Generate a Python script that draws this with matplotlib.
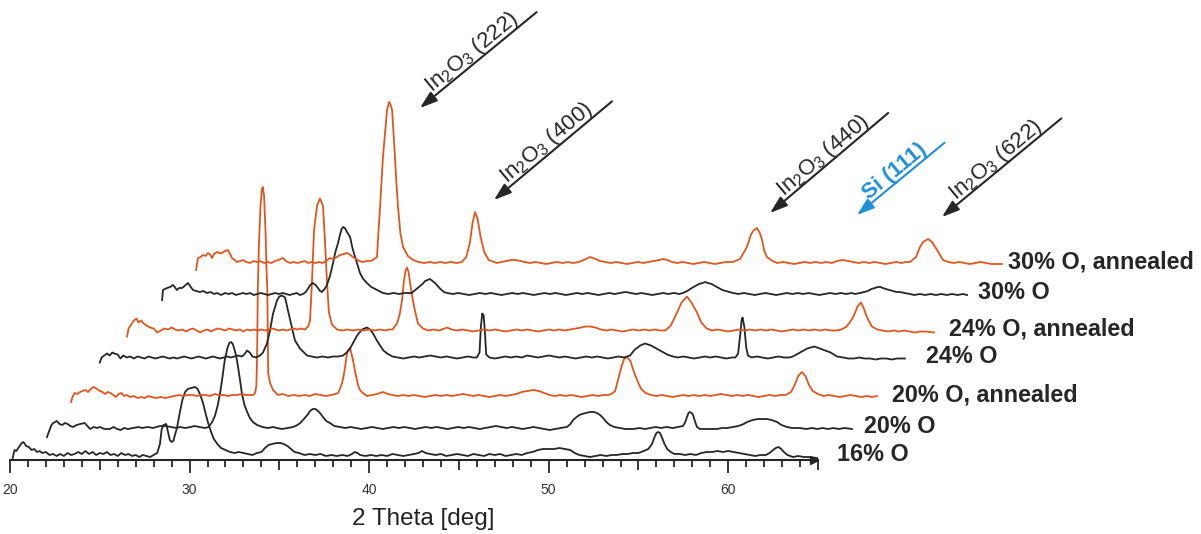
import numpy as np
import matplotlib.pyplot as plt
from matplotlib.ticker import FixedLocator, FuncFormatter

plt.rcParams['font.family'] = ['Liberation Sans', 'DejaVu Sans']
plt.rcParams['mathtext.fontset'] = 'custom'
plt.rcParams['mathtext.rm'] = 'Liberation Sans'
plt.rcParams['mathtext.bf'] = 'Liberation Sans:bold'

# XRD scans, 2 theta [deg] and counts above background (a.u.)
theta_16 = [20.15, 20.25, 20.35, 20.5, 20.65, 20.75, 20.9, 21.05, 21.2, 21.35, 21.5, 21.65, 21.8, 22.0, 22.2, 22.4,
            22.6, 22.8, 23.0, 23.2, 23.4, 23.6, 23.8, 24.0, 24.2, 24.4, 24.6, 24.8, 25.0, 25.2, 25.4, 25.6, 25.8,
            26.0, 26.2, 26.4, 26.6, 26.8, 27.0, 27.2, 27.4, 27.6, 27.8, 28.0, 28.2, 28.35, 28.45, 28.55, 28.7, 28.8,
            28.9, 29.0, 29.1, 29.2, 29.3, 29.45, 29.6, 29.75, 29.9, 30.1, 30.3, 30.45, 30.6, 30.75, 30.9, 31.05,
            31.2, 31.35, 31.55, 31.75, 32.0, 32.25, 32.5, 32.75, 33.0, 33.25, 33.5, 33.75, 34.0, 34.2, 34.4, 34.6,
            34.85, 35.05, 35.25, 35.45, 35.65, 35.85, 36.1, 36.4, 36.7, 37.0, 37.3, 37.6, 37.9, 38.2, 38.5, 38.8,
            39.05, 39.2, 39.35, 39.5, 39.8, 40.1, 40.4, 40.7, 41.0, 41.3, 41.6, 41.9, 42.2, 42.5, 42.75, 42.95,
            43.15, 43.4, 43.7, 44.0, 44.3, 44.6, 44.9, 45.2, 45.5, 45.8, 46.1, 46.4, 46.7, 47.0, 47.3, 47.6, 47.9,
            48.2, 48.5, 48.8, 49.1, 49.4, 49.7, 50.0, 50.3, 50.6, 50.9, 51.2, 51.45, 51.7, 52.0, 52.3, 52.6, 52.9,
            53.2, 53.5, 53.8, 54.1, 54.4, 54.7, 55.0, 55.3, 55.55, 55.75, 55.9, 56.0, 56.1, 56.2, 56.3, 56.45,
            56.6, 56.8, 57.0, 57.3, 57.6, 57.9, 58.2, 58.5, 58.8, 59.1, 59.4, 59.7, 60.0, 60.3, 60.6, 60.9, 61.2,
            61.5, 61.8, 62.1, 62.3, 62.5, 62.65, 62.8, 62.95, 63.1, 63.3, 63.6, 63.9, 64.2, 64.5, 64.95]
counts_16 = [-2, 6, 5, 9, 13, 14, 10, 9, 6, 7, 4, 5, 3, 4, 1, 2,
             0, 2, 0, 3, 1, 2, 4, 2, 5, 2, 4, 1, 3, 2, 4, 1, 2,
             0, 3, 1, 2, 0, 1, -1, 1, 0, -1, 1, 3, 12, 27, 31, 32, 24,
             16, 14, 15, 22, 28, 43, 56, 64, 67, 68, 69, 67, 61, 53, 42, 32,
             24, 17, 12, 8, 6, 4, 3, 4, 3, 2, 1, 3, 4, 8, 11, 12,
             13, 13, 12, 10, 7, 4, 3, 1, 2, 1, 2, 0, 1, 0, 1, 0,
             2, 4, 3, 1, 0, 1, 0, 1, 0, 2, 1, 0, 1, 2, 3, 5,
             3, 2, 1, 2, 0, 1, 2, 1, 0, 2, 1, 0, 2, 1, 2, 0, 1,
             2, 1, 3, 4, 6, 7, 7, 7, 8, 7, 6, 3, 1, 0, -1, 0, 1,
             0, 1, 1, 2, 2, 3, 3, 5, 7, 12, 19, 23, 24, 23, 19, 12,
             7, 4, 2, 2, 1, 2, 1, 3, 4, 4, 5, 4, 5, 4, 3, 2, 1,
             0, 1, 1, 3, 6, 8, 9, 7, 4, 1, -1, 0, -1, -1, -2]

theta_20 = [20.2, 20.3, 20.45, 20.55, 20.75, 20.9, 21.05, 21.2, 21.35, 21.5, 21.65, 21.85, 22.05, 22.3, 22.45,
            22.6, 22.8, 23.0, 23.15, 23.4, 23.7, 23.9, 24.1, 24.3, 24.5, 24.7, 25.0, 25.3, 25.5, 25.8, 26.1, 26.5,
            26.8, 27.1, 27.4, 27.6, 27.9, 28.2, 28.4, 28.7, 29.0, 29.2, 29.4, 29.55, 29.7, 29.85, 29.95, 30.1,
            30.25, 30.35, 30.45, 30.55, 30.65, 30.75, 30.85, 30.95, 31.05, 31.2, 31.35, 31.5, 31.67, 31.9, 32.2,
            32.5, 32.8, 33.0, 33.3, 33.6, 33.9, 34.15, 34.3, 34.46, 34.7, 34.85, 35.0, 35.15, 35.29, 35.45, 35.57,
            35.75, 35.96, 36.2, 36.52, 36.8, 37.1, 37.4, 37.7, 38.0, 38.3, 38.6, 38.9, 39.2, 39.5, 39.8, 40.1,
            40.4, 40.7, 41.0, 41.3, 41.6, 41.9, 42.2, 42.5, 42.8, 43.1, 43.4, 43.7, 44.0, 44.3, 44.6, 44.9, 45.2,
            45.5, 45.8, 46.1, 46.4, 46.7, 47.0, 47.3, 47.6, 47.9, 48.2, 48.5, 48.8, 49.16, 49.35, 49.5, 49.7,
            49.85, 50.0, 50.2, 50.44, 50.65, 50.83, 51.0, 51.17, 51.35, 51.55, 51.8, 52.11, 52.4, 52.84, 53.2,
            53.5, 53.8, 54.1, 54.4, 54.7, 55.06, 55.35, 55.62, 55.75, 55.84, 55.93, 56.01, 56.1, 56.18, 56.3,
            56.4, 56.57, 56.9, 57.2, 57.51, 57.8, 58.1, 58.41, 58.7, 59.0, 59.19, 59.5, 59.8, 60.05, 60.3, 60.55,
            60.86, 61.1, 61.41, 61.7, 62.13, 62.5, 62.8, 63.1, 63.4, 63.7, 64.0, 64.3, 64.6, 65.03]
counts_20 = [-9, -4, 3, 5, 7, 4, 3, 5, 4, 2, 1, 3, 4, 5, 2,
             -1, 1, 0, 1, -1, -1, 1, -1, -2, 0, -1, 0, 1, 0, 1, 0, 2,
             2, 1, 0, 1, 0, 1, 2, 1, 0, 1, 6, 12, 22, 36, 48, 68,
             80, 85, 86, 84, 78, 71, 60, 48, 35, 23, 16, 10, 6, 3, 1,
             0, 1, 0, -1, 0, 1, 3, 5, 8, 13, 17, 19, 19, 17, 14, 11,
             7, 5, 2, 1, 0, 1, 0, -1, 0, 1, 0, -1, 0, 1, 0, 1,
             0, -1, 0, 1, 0, 1, 0, -1, 0, 1, 0, 1, 0, -1, 0, 1, 2,
             1, 0, 1, 0, -1, 0, 1, 0, -1, -2, -1, 0, 1, 4, 8, 11,
             13, 14, 15, 16, 16, 15, 13, 10, 6, 3, 1, 0, -1, -1, 0,
             -1, 0, 1, 0, 1, 0, 1, 2, 6, 11, 15, 16, 15, 13, 6,
             1, -1, -1, -1, -1, 0, 0, 1, 2, 4, 6, 8, 9, 9, 9, 8,
             6, 3, 1, 0, 0, -1, 0, -1, 0, -1, 0, -1, 0, -1]

theta_20a = [20.2, 20.28, 20.4, 20.55, 20.7, 20.85, 21.0, 21.15, 21.3, 21.45, 21.55, 21.65, 21.8, 21.95, 22.1,
             22.25, 22.4, 22.55, 22.7, 22.85, 23.0, 23.15, 23.3, 23.5, 23.7, 23.9, 24.1, 24.3, 24.5, 24.7, 24.95,
             25.2, 25.45, 25.7, 25.95, 26.2, 26.45, 26.7, 26.95, 27.2, 27.45, 27.7, 27.95, 28.2, 28.45, 28.7,
             28.95, 29.2, 29.45, 29.7, 29.95, 30.2, 30.35, 30.45, 30.52, 30.56, 30.6, 30.66, 30.75, 30.83, 30.88,
             30.95, 31.03, 31.08, 31.13, 31.16, 31.18, 31.28, 31.45, 31.72, 32.0, 32.3, 32.6, 32.9, 33.2, 33.5,
             33.8, 34.1, 34.4, 34.7, 34.9, 35.07, 35.2, 35.29, 35.38, 35.46, 35.52, 35.57, 35.65, 35.74, 35.82,
             35.9, 36.0, 36.12, 36.2, 36.29, 36.45, 36.68, 36.95, 37.25, 37.57, 37.85, 38.1, 38.4, 38.7, 39.0,
             39.3, 39.6, 39.9, 40.2, 40.5, 40.8, 41.1, 41.4, 41.7, 42.03, 42.3, 42.6, 42.9, 43.2, 43.5, 43.8,
             44.1, 44.4, 44.7, 45.0, 45.3, 45.6, 45.93, 46.25, 46.55, 46.85, 47.15, 47.45, 47.75, 48.05, 48.35,
             48.65, 48.95, 49.25, 49.55, 49.85, 50.1, 50.3, 50.5, 50.66, 50.85, 51.0, 51.16, 51.35, 51.55, 51.72,
             51.95, 52.2, 52.5, 52.8, 53.1, 53.4, 53.7, 54.0, 54.3, 54.6, 54.9, 55.2, 55.5, 55.8, 56.1, 56.4,
             56.7, 57.0, 57.3, 57.6, 57.9, 58.2, 58.5, 58.8, 59.1, 59.4, 59.7, 60.0, 60.3, 60.5, 60.7, 60.9,
             61.1, 61.3, 61.5, 61.8, 62.1, 62.4, 62.7, 63.0, 63.3, 63.6, 63.9, 64.2, 64.5, 64.8, 65.08]
counts_20a = [-6, -1, 3, 2, 4, 5, 6, 4, 7, 9, 8, 7, 5, 4, 2,
              4, 3, 1, -1, 2, 3, 0, 1, -1, 0, -2, -1, -2, 0, -1, -2,
              -1, -2, -1, 0, 1, 0, 1, 1, 0, 1, 1, 0, 2, 1, 1,
              0, 1, 1, 2, 1, 1, 1, 3, 10, 40, 106, 150, 190, 207, 209,
              200, 165, 130, 106, 60, 23, 13, 6, 1, 2, 0, 1, 0, 1, 0,
              2, 1, 0, 1, 2, 3, 8, 13, 20, 29, 37, 43, 46, 48, 42,
              36, 26, 16, 10, 6, 3, 0, 1, 2, 4, 2, 1, 0, 1, 0,
              1, 0, -1, 0, 1, 0, 1, 0, 1, 2, 1, 0, 1, 0, -1, 0,
              1, 0, 1, 2, 4, 5, 6, 5, 3, 1, 0, 1, 0, 1, 0,
              -1, 0, 1, 0, 1, 1, 2, 5, 16, 29, 37, 39, 35, 24, 16,
              7, 3, 1, 0, 1, 0, -1, 0, 1, 0, 1, 0, 1, 0, 1, 2,
              1, 0, 1, 0, 1, 0, -1, 0, 1, 0, 1, 1, 4, 11, 20, 24,
              20, 11, 5, 2, 0, 1, 0, -1, 0, 1, 0, -1, 0, -1, 0]

theta_24 = [20.2, 20.3, 20.45, 20.6, 20.75, 20.9, 21.0, 21.2, 21.35, 21.5, 21.7, 21.9, 22.1, 22.3, 22.5, 22.7,
            22.9, 23.1, 23.3, 23.5, 23.7, 23.9, 24.1, 24.3, 24.5, 24.7, 24.9, 25.1, 25.3, 25.5, 25.7, 25.9, 26.1,
            26.3, 26.5, 26.7, 26.9, 27.1, 27.3, 27.5, 27.7, 27.9, 28.1, 28.25, 28.4, 28.55, 28.7, 28.9, 29.12,
            29.29, 29.51, 29.68, 29.85, 30.07, 30.2, 30.35, 30.52, 30.68, 30.9, 31.07, 31.35, 31.74, 32.0, 32.3,
            32.6, 32.9, 33.2, 33.5, 33.75, 33.95, 34.14, 34.35, 34.53, 34.8, 35.08, 35.25, 35.42, 35.6, 35.81,
            36.0, 36.2, 36.5, 36.8, 37.1, 37.4, 37.7, 38.0, 38.3, 38.6, 38.9, 39.2, 39.5, 39.8, 40.1, 40.4, 40.7,
            41.0, 41.2, 41.35, 41.42, 41.5, 41.58, 41.65, 41.72, 41.9, 42.2, 42.5, 42.8, 43.1, 43.4, 43.7, 44.0,
            44.3, 44.6, 44.9, 45.2, 45.5, 45.8, 46.1, 46.4, 46.7, 47.0, 47.3, 47.6, 47.9, 48.2, 48.5, 48.8, 49.1,
            49.4, 49.73, 50.0, 50.3, 50.57, 50.9, 51.2, 51.5, 51.8, 52.12, 52.4, 52.7, 53.0, 53.3, 53.6, 53.9,
            54.2, 54.5, 54.8, 55.1, 55.4, 55.6, 55.75, 55.85, 55.95, 56.0, 56.1, 56.2, 56.3, 56.5, 56.8, 57.1,
            57.4, 57.7, 58.0, 58.3, 58.6, 58.8, 59.2, 59.6, 60.0, 60.3, 60.6, 60.9, 61.26, 61.6, 61.9, 62.2,
            62.5, 62.8, 63.1, 63.4, 63.7, 64.0, 64.3, 64.6, 65.04]
counts_24 = [-5, 0, 2, 4, 2, 5, 4, 3, -1, 2, 0, 1, -1, 1, 0, -1,
             1, 0, -1, 0, 1, 0, -1, 0, -1, 0, 1, 0, -1, 0, 1, 0, -1,
             0, 1, 0, -1, 0, 1, 0, 1, 2, 1, 3, 7, 5, 1, 0, 2,
             5, 14, 27, 44, 57, 61, 62, 60, 47, 30, 17, 9, 2, 1, 0,
             1, 0, 1, 1, 2, 5, 9, 16, 22, 28, 30, 28, 24, 18, 12,
             7, 4, 1, 0, -1, 0, 1, 0, 1, 2, 1, 0, 1, 0, -1, 0, 1,
             0, 0, 5, 30, 44, 42, 25, 3, 0, -1, 0, 1, 0, 1, 0, 2,
             1, 0, 1, 2, 1, 0, 1, 0, -1, 0, 1, 0, 1, 0, -1, 0, 1,
             0, 2, 8, 12, 14, 12, 9, 6, 3, 1, 0, 1, 0, -1, 0, 1,
             0, 1, 0, -1, 0, 0, 4, 20, 38, 40, 30, 10, 2, 0, 1, 0,
             -1, 0, 1, 0, 0, 1, 5, 9, 11, 9, 7, 5, 1, 0, -1, -1,
             0, -1, -1, -2, -1, -1, -2, -1, -1]

theta_24a = [20.22, 20.3, 20.45, 20.6, 20.75, 20.85, 21.0, 21.15, 21.3, 21.5, 21.7, 21.9, 22.1, 22.3, 22.5, 22.7,
             22.9, 23.1, 23.3, 23.5, 23.7, 23.9, 24.1, 24.3, 24.5, 24.7, 24.9, 25.1, 25.3, 25.5, 25.7, 25.9, 26.1,
             26.3, 26.5, 26.7, 26.9, 27.1, 27.3, 27.5, 27.7, 27.9, 28.1, 28.3, 28.5, 28.7, 28.9, 29.1, 29.3, 29.5,
             29.7, 29.9, 30.13, 30.3, 30.41, 30.52, 30.63, 30.8, 30.96, 31.13, 31.24, 31.35, 31.46, 31.63, 31.91,
             32.2, 32.5, 32.8, 33.1, 33.4, 33.7, 34.0, 34.3, 34.6, 34.8, 35.0, 35.25, 35.4, 35.53, 35.64, 35.73,
             35.81, 35.9, 36.0, 36.09, 36.25, 36.42, 36.7, 37.0, 37.3, 37.6, 38.04, 38.3, 38.6, 38.9, 39.2, 39.5,
             39.8, 40.1, 40.4, 40.7, 41.0, 41.3, 41.6, 41.9, 42.2, 42.5, 42.8, 43.1, 43.4, 43.7, 44.0, 44.3, 44.6,
             44.9, 45.2, 45.5, 45.75, 46.0, 46.3, 46.6, 46.9, 47.2, 47.5, 47.8, 48.1, 48.4, 48.7, 49.0, 49.3,
             49.6, 49.9, 50.2, 50.5, 50.85, 51.1, 51.4, 51.65, 51.96, 52.2, 52.5, 52.8, 53.1, 53.4, 53.7, 54.0,
             54.3, 54.6, 54.9, 55.2, 55.5, 55.8, 56.1, 56.4, 56.7, 57.0, 57.3, 57.6, 57.9, 58.2, 58.5, 58.8,
             59.1, 59.4, 59.7, 60.0, 60.3, 60.65, 60.9, 61.09, 61.25, 61.43, 61.7, 62.0, 62.3, 62.6, 62.9, 63.2,
             63.5, 63.8, 64.1, 64.4, 64.7, 65.16]
counts_24a = [-6, 2, 6, 10, 12, 8, 10, 7, 5, 3, 2, -2, 0, 2, 1, 3,
              1, 0, 1, -1, 1, 2, 0, -2, 0, 1, -1, 1, 2, 1, 0, 2, 1,
              0, 1, -1, 1, 0, 1, 0, 1, 0, 1, 2, 1, 0, 1, 0, 1, 2,
              1, 2, 1, 4, 10, 50, 100, 125, 132, 125, 90, 50, 18, 6, 1,
              0, 1, 0, 1, 0, 1, 0, 1, 0, 1, 1, 7, 16, 30, 50, 60,
              63, 58, 45, 35, 20, 7, 2, 0, 1, 0, 3, 1, 0, 1, 0, -1,
              0, 1, 0, 1, 0, -1, 0, 1, 0, 1, 0, -1, 0, 1, 0, 1, 0,
              1, 2, 3, 4, 4, 3, 1, 0, 1, 0, -1, 0, 1, 0, 1, 0,
              1, 0, 0, 5, 18, 28, 34, 28, 18, 8, 2, 0, 1, 0, -1, 0,
              1, 0, 1, 0, 1, 0, 1, 0, -1, 0, 1, 0, 1, 0, 1, 0,
              1, 0, 0, 1, 4, 13, 24, 28, 22, 13, 4, 1, 0, -1, 0, -1,
              0, -1, -2, -1, -1, -2]

theta_30 = [20.2, 20.25, 20.47, 20.65, 20.81, 21.03, 21.15, 21.31, 21.45, 21.64, 21.8, 21.92, 22.1, 22.31, 22.5,
            22.7, 22.9, 23.1, 23.26, 23.5, 23.7, 23.9, 24.1, 24.3, 24.5, 24.7, 24.9, 25.1, 25.3, 25.5, 25.7, 25.9,
            26.1, 26.3, 26.5, 26.7, 26.93, 27.1, 27.3, 27.5, 27.7, 27.88, 28.05, 28.2, 28.35, 28.45, 28.6, 28.75,
            28.88, 29.0, 29.1, 29.25, 29.38, 29.55, 29.72, 29.85, 30.0, 30.12, 30.2, 30.28, 30.38, 30.5, 30.67,
            30.8, 30.95, 31.1, 31.22, 31.4, 31.61, 31.85, 32.17, 32.5, 32.8, 33.1, 33.4, 33.7, 34.1, 34.3, 34.5,
            34.7, 34.85, 35.12, 35.4, 35.7, 35.9, 36.07, 36.4, 36.7, 37.0, 37.3, 37.6, 37.9, 38.2, 38.5, 38.8,
            39.1, 39.4, 39.7, 40.0, 40.3, 40.6, 40.9, 41.2, 41.5, 41.8, 42.1, 42.4, 42.7, 43.0, 43.3, 43.6, 43.9,
            44.2, 44.5, 44.8, 45.1, 45.4, 45.7, 46.0, 46.3, 46.6, 46.9, 47.2, 47.5, 47.8, 48.1, 48.4, 48.7, 49.0,
            49.21, 49.45, 49.7, 49.9, 50.1, 50.3, 50.45, 50.6, 50.8, 51.0, 51.2, 51.4, 51.6, 51.8, 52.0, 52.3,
            52.6, 52.9, 53.2, 53.5, 53.8, 54.1, 54.4, 54.7, 55.0, 55.3, 55.6, 55.9, 56.2, 56.5, 56.8, 57.1, 57.4,
            57.7, 58.0, 58.3, 58.6, 58.8, 59.07, 59.3, 59.5, 59.7, 59.9, 60.05, 60.2, 60.35, 60.5, 60.7, 60.9,
            61.1, 61.3, 61.55, 61.85, 62.1, 62.4, 62.7, 63.0, 63.3, 63.6, 63.9, 64.2, 64.5, 64.8, 65.03]
counts_30 = [-6, 4, 6, 7, 9, 4, 6, 6, 8, 11, 7, 4, 3, 2, 3,
             1, 2, 0, 1, -1, 1, 0, 1, -1, 0, 1, 0, 1, -1, 0, 1, 0,
             -1, 0, 1, 0, 1, 0, -1, 0, 1, -1, 0, 2, 6, 9, 11, 9,
             6, 3, 2, 5, 9, 18, 31, 42, 51, 60, 65, 67, 66, 62, 57,
             46, 37, 28, 21, 15, 11, 7, 4, 1, 0, 1, 0, 1, 1, 4, 7,
             10, 13, 15, 11, 5, 2, 1, 0, 1, 0, -1, 0, 1, 0, 1, 0,
             -1, 0, 1, 0, 1, 0, -1, 0, 1, 0, 1, 0, -1, 0, 1, 0, 1,
             0, -1, 0, 1, 0, 1, 2, 1, 0, 1, 0, -1, 0, 1, 0, 1, 0,
             1, 3, 6, 8, 10, 11, 12, 11, 10, 8, 6, 4, 3, 2, 1, 0,
             1, 0, -1, 0, 1, 0, -1, 0, 1, 0, 1, 0, 1, 0, -1, 0, 1,
             0, 1, 0, 1, 0, 1, 2, 3, 5, 6, 7, 7, 6, 5, 4, 3,
             2, 2, 1, 0, -1, 0, -1, 0, -1, 0, -1, 0, -1, 0, -1]

theta_30a = [20.2, 20.31, 20.45, 20.59, 20.73, 20.87, 21.0, 21.09, 21.2, 21.37, 21.5, 21.65, 21.8, 21.98, 22.1,
             22.2, 22.35, 22.48, 22.65, 22.82, 23.0, 23.2, 23.4, 23.6, 23.76, 24.0, 24.2, 24.4, 24.6, 24.8, 25.04,
             25.2, 25.43, 25.65, 25.85, 26.05, 26.25, 26.45, 26.65, 26.85, 27.05, 27.25, 27.45, 27.66, 27.85,
             28.05, 28.22, 28.45, 28.61, 28.8, 28.94, 29.1, 29.3, 29.5, 29.7, 29.9, 30.06, 30.2, 30.28, 30.33,
             30.45, 30.61, 30.75, 30.84, 30.95, 31.04, 31.12, 31.2, 31.28, 31.36, 31.45, 31.58, 31.73, 32.0, 32.29,
             32.6, 32.9, 33.2, 33.5, 33.8, 34.1, 34.4, 34.7, 35.0, 35.25, 35.45, 35.6, 35.74, 35.88, 36.05, 36.25,
             36.5, 36.8, 36.96, 37.2, 37.5, 37.75, 38.01, 38.25, 38.5, 38.8, 39.1, 39.4, 39.7, 40.0, 40.3, 40.6,
             40.9, 41.2, 41.5, 41.8, 42.14, 42.45, 42.7, 43.0, 43.3, 43.6, 43.9, 44.2, 44.5, 44.8, 45.1, 45.4,
             45.7, 46.0, 46.2, 46.45, 46.7, 47.0, 47.3, 47.6, 47.9, 48.2, 48.5, 48.8, 49.1, 49.4, 49.7, 50.1, 50.5,
             50.88, 51.1, 51.22, 51.44, 51.6, 51.72, 51.85, 52.0, 52.3, 52.56, 52.9, 53.2, 53.5, 53.8, 54.1, 54.4,
             54.7, 55.0, 55.3, 55.6, 55.9, 56.23, 56.5, 56.8, 57.1, 57.4, 57.7, 58.0, 58.3, 58.6, 58.9, 59.2,
             59.5, 59.7, 59.96, 60.3, 60.52, 60.69, 60.97, 61.19, 61.47, 61.8, 62.1, 62.4, 62.7, 63.0, 63.3,
             63.6, 63.9, 64.2, 64.5, 64.8, 65.09]
counts_30a = [-7, 5, 6, 8, 7, 10, 8, 5, 9, 11, 10, 10, 12, 13, 9,
              5, 3, 1, 2, 3, 1, 0, 2, 1, 2, 0, 1, 0, 2, 3, 5,
              2, 0, 1, 0, 1, 2, 0, 1, 0, 1, 0, 2, 5, 4,
              6, 8, 9, 10, 8, 6, 4, 2, 1, 2, 2, 3, 5, 6, 23,
              56, 106, 135, 153, 161, 158, 153, 130, 106, 80, 56, 30, 16, 7, 3,
              1, 0, 1, 0, 1, 0, 1, 0, 1, 6, 20, 40, 51, 44, 26, 11,
              3, 1, 0, 1, 2, 3, 3, 2, 1, 0, 1, 0, -1, 0, 1, 0,
              1, 0, 1, 3, 6, 4, 2, 1, 0, 1, 0, -1, 0, 1, 0, 1,
              2, 3, 4, 3, 1, 0, 1, 0, -1, 0, 1, 0, -1, 0, 1, 1, 4,
              16, 28, 32, 35, 30, 23, 12, 6, 2, 0, 1, 0, -1, 0, 1, 0,
              1, 0, 1, 0, 2, 3, 2, 1, 0, 1, 0, 1, 0, -1, 0, 1,
              0, 1, 1, 6, 16, 21, 24, 21, 13, 3, 1, 0, 1, 0, -1,
              0, 1, 0, -1, -1, -1]

sample_labels = ['16% O', '20% O', '20% O, annealed', '24% O', '24% O, annealed', '30% O', '30% O, annealed']
thetas = [theta_16, theta_20, theta_20a, theta_24, theta_24a, theta_30, theta_30a]
counts = [counts_16, counts_20, counts_20a, counts_24, counts_24a, counts_30, counts_30a]
annealed = [False, False, True, False, True, False, True]

# waterfall stacking: horizontal shift [deg] and vertical offset per scan
x_shift = [0.0, 1.86, 3.2, 4.8, 6.3, 8.27, 10.16]
y_shift = [4, 32, 64, 102.5, 129.5, 166, 197]
label_gap = [14, 9, 11, 15, 11, 8, 4]   # points between scan end and its label

# reflections marked on the top scan
refl_labels = [r'In$_2$O$_3$ (222)', r'In$_2$O$_3$ (400)', r'In$_2$O$_3$ (440)', 'Si (111)',
               r'In$_2$O$_3$ (622)']
refl_tip_theta = [32.67, 36.79, 52.17, 57.01, 61.74]
refl_tip_height = [155, 63, 50, 48, 46]
refl_arrow = [(84, 69), (85, 71), (85, 72), (63, 52), (86, 71)]
refl_is_si = [False, False, False, True, False]

black = '#262626'
orange = '#e0561f'
blue = '#1f8fd8'

fig = plt.figure(figsize=(12.01, 5.34), dpi=100)
ax = fig.add_axes([0, 74 / 534, 1, 460 / 534])
ax.set_xlim(20 - 10 / 17.956, 20 + 1191 / 17.956)
ax.set_ylim(0, 460)

for th, ct, dx, dy, ann in zip(thetas, counts, x_shift, y_shift, annealed):
    ax.plot(np.array(th) + dx, np.array(ct) + dy, color=orange if ann else black, lw=1.3, clip_on=False)

for lab, th, dx, dy, gap in zip(sample_labels, thetas, x_shift, y_shift, label_gap):
    ax.annotate(lab, xy=(th[-1] + dx, dy), xytext=(gap, -3.8), textcoords='offset points',
                ha='left', va='baseline', fontsize=16.8, fontweight='bold', color=black)

top = len(thetas) - 1
for lab, tt, th_, (vx, vy), si in zip(refl_labels, refl_tip_theta, refl_tip_height, refl_arrow, refl_is_si):
    tip = (tt + x_shift[top], th_ + y_shift[top])
    col = blue if si else black
    ax.annotate('', xy=tip, xytext=(vx, vy), textcoords='offset points',
                arrowprops=dict(arrowstyle='-|>,head_length=0.75,head_width=0.25', color=col, lw=1.5,
                                mutation_scale=14, shrinkA=0, shrinkB=0))
    ang = np.degrees(np.arctan2(vy, vx))
    nx, ny = -np.sin(np.radians(ang)) * 3, np.cos(np.radians(ang)) * 3
    ax.annotate(lab, xy=tip, xytext=(vx / 2 + nx, vy / 2 + ny), textcoords='offset points',
                rotation=ang, rotation_mode='anchor', ha='center', va='baseline',
                fontsize=16, color=col, fontweight='bold' if si else 'normal')

# bottom axis only, 20..65 deg with an arrow head at the end
for side in ['left', 'right', 'top']:
    ax.spines[side].set_visible(False)
ax.spines['bottom'].set_bounds(20, 65)
ax.spines['bottom'].set_linewidth(1.5)
ax.spines['bottom'].set_color(black)
ax.plot([64.75], [0], marker='>', ms=6, color=black, clip_on=False)
ax.set_yticks([])

ax.xaxis.set_major_locator(FixedLocator(np.arange(20, 66, 5)))
ax.xaxis.set_minor_locator(FixedLocator([v for v in range(21, 65) if v % 5]))
ax.xaxis.set_major_formatter(FuncFormatter(lambda v, p: f'{v:.0f}' if v % 10 == 0 and v < 65 else ''))
ax.tick_params(axis='x', which='major', length=7.2, width=1.3, color=black, pad=9,
               labelsize=10, labelcolor='#333333')
ax.tick_params(axis='x', which='minor', length=4.7, width=1.3, color=black)
for tk, v in zip(ax.xaxis.get_major_ticks(), np.arange(20, 66, 5)):
    if v % 10 == 0:
        tk.tick1line.set_markersize(9)

ax.set_xlabel('2 Theta [deg]', fontsize=17.5, color='#222222')
ax.xaxis.set_label_coords(423 / 1201, -0.104)

fig.savefig('out.png', dpi=100)
